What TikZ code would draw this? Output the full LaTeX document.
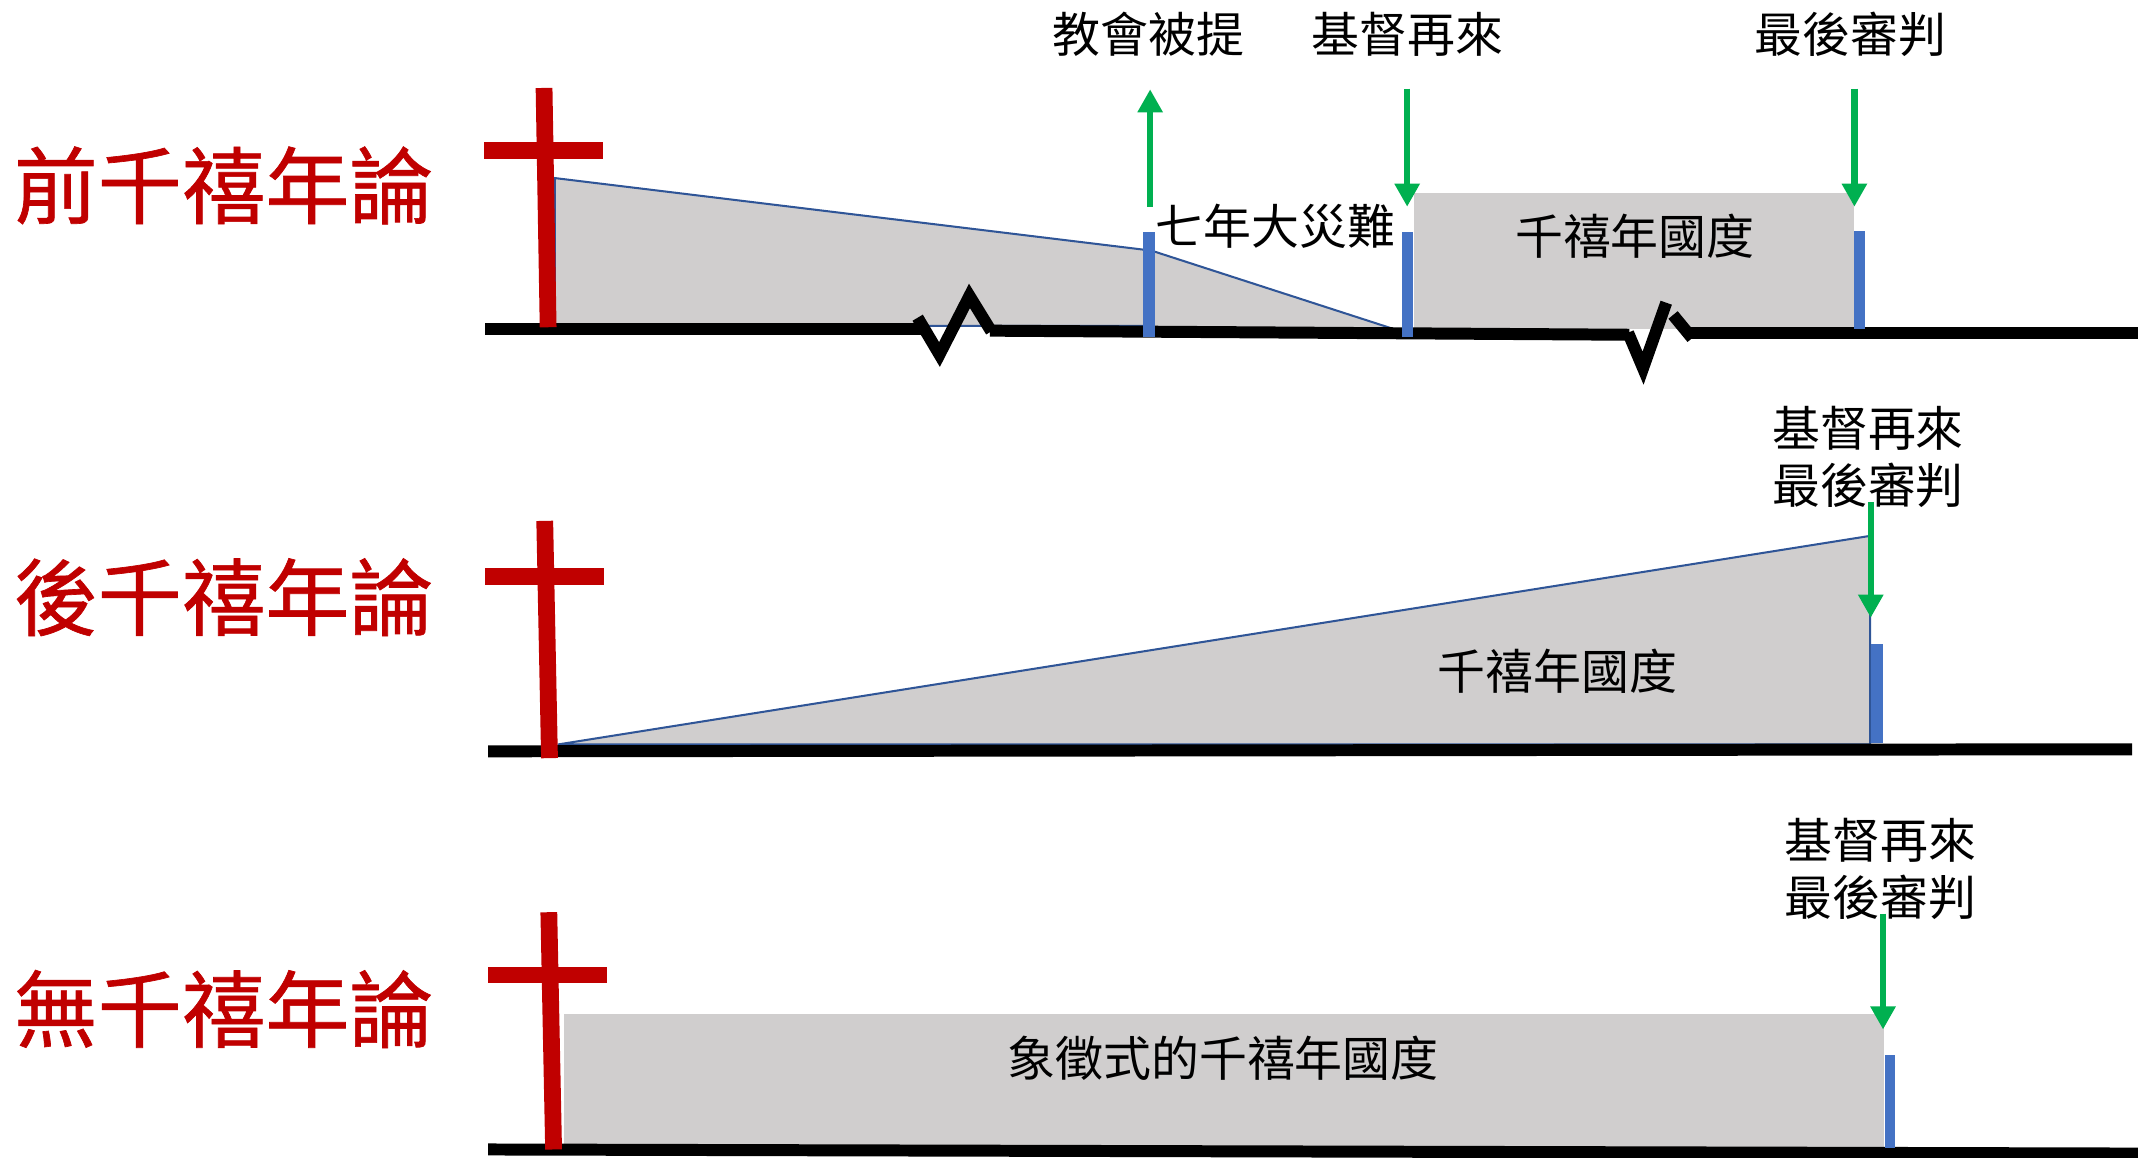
\documentclass[tikz,border=0pt]{standalone}
\usepackage{fontspec}
\usepackage{tikz}
\usetikzlibrary{arrows.meta}
\newfontfamily\tcfont{Noto Sans CJK TC}
\newfontfamily\tctitlefont{Noto Sans CJK TC}[FakeBold=0.8]
\definecolor{crossred}{HTML}{C00000}
\definecolor{arrowgreen}{HTML}{00B050}
\definecolor{barblue}{HTML}{4472C4}
\definecolor{edgeblue}{HTML}{2F5597}
\definecolor{eragray}{HTML}{D0CECE}
\tikzset{
  every node/.style={
    font=\tcfont\fontsize{20}{23.7}\selectfont,
    inner sep=0pt
  },
  theory/.style={
    font=\tctitlefont\fontsize{35}{40}\selectfont,
    text=crossred
  },
  event/.style={
    align=center
  },
  kingdom/.style={
    fill=eragray
  },
  slope/.style={
    fill=eragray,
    draw=edgeblue,
    line width=0.85pt
  },
  timeline/.style={
    draw=black,
    line width=5pt
  },
  crossbar/.style={
    draw=crossred,
    line width=7pt
  },
  marker/.style={
    fill=barblue
  },
  coming/.style={
    draw=arrowgreen,
    line width=2.6pt,
    -{Triangle[width=10pt,length=9.6pt]}
  }
}

\begin{document}
\begin{tikzpicture}[x=0.02cm,y=-0.02cm]
\useasboundingbox (0,0) rectangle (1568,849);

% premillennialism
\node [theory] (pre) at (164,136) {前千禧年論};
\filldraw [slope] (407,130.6) -- (844.5,183.8) -- (844.5,239) -- (407,239) -- cycle;
\filldraw [slope] (844.5,183.8) -- (1032,244.5) -- (844.5,244.5) -- cycle;
\fill [kingdom] (1037,141.5) rectangle (1360,241);
\draw [timeline] (356,241) -- (678,241);
\draw [timeline] (673,233) -- (689,260) -- (711,217) -- (727,243);
\draw [timeline] (726,242.5) -- (1195,245.5);
\draw [timeline] (1194,244) -- (1205,270) -- (1222,222);
\draw [timeline] (1227,231) -- (1241,248);
\draw [timeline] (1240,244.5) -- (1568,244.5);
\fill [marker] (838,170) rectangle (847,247);
\fill [marker] (1028,170) rectangle (1036,247);
\fill [marker] (1360,169.5) rectangle (1368,241);
\draw [crossbar] (399,64.5) -- (402,240);
\draw [crossbar] (355,110.5) -- (442,110.5);
\node [event] (rapture) at (842.5,25) {教會被提};
\node [event] (return) at (1032,25) {基督再來};
\node [event] (judgment) at (1357,25) {最後審判};
\node (tribulation) at (935.5,166) {七年大災難};
\node (kingdom) at (1199,173.5) {千禧年國度};
\coordinate (rapture from) at (843.5,151.5);
\coordinate (rapture to) at (843.5,65.5);
\coordinate (return from) at (1032,65);
\coordinate (return to) at (1032,151.6);
\coordinate (judgment from) at (1360,65);
\coordinate (judgment to) at (1360,151.6);
\draw [coming] (rapture from) -- (rapture to);
\draw [coming] (return from) -- (return to);
\draw [coming] (judgment from) -- (judgment to);

% postmillennialism
\node [theory] (post) at (164,438) {後千禧年論};
\filldraw [slope] (409,546) -- (1371.5,393) -- (1371.5,546) -- cycle;
\draw [timeline] (358,551) -- (1563.6,549.5);
\fill [marker] (1372.5,472) rectangle (1381,545);
\draw [crossbar] (399.5,382) -- (403,556);
\draw [crossbar] (356,423) -- (443,423);
\node [event] (post end) at (1370,335) {基督再來\\最後審判};
\node (post kingdom) at (1142,492) {千禧年國度};
\coordinate (post from) at (1372,368);
\coordinate (post to) at (1372,453);
\draw [coming] (post from) -- (post to);

% amillennialism
\node [theory] (amil) at (164,740) {無千禧年論};
\fill [kingdom] (413.8,743.7) rectangle (1381.8,843);
\draw [timeline] (358,843) -- (1568,846);
\fill [marker] (1382.5,773.7) rectangle (1390,842);
\draw [crossbar] (402.5,669) -- (406,843);
\draw [crossbar] (358,715) -- (445,715);
\node [event] (amil end) at (1379,637) {基督再來\\最後審判};
\node (amil kingdom) at (897,776) {象徵式的千禧年國度};
\coordinate (amil from) at (1381,670);
\coordinate (amil to) at (1381,755);
\draw [coming] (amil from) -- (amil to);

\end{tikzpicture}
\end{document}
